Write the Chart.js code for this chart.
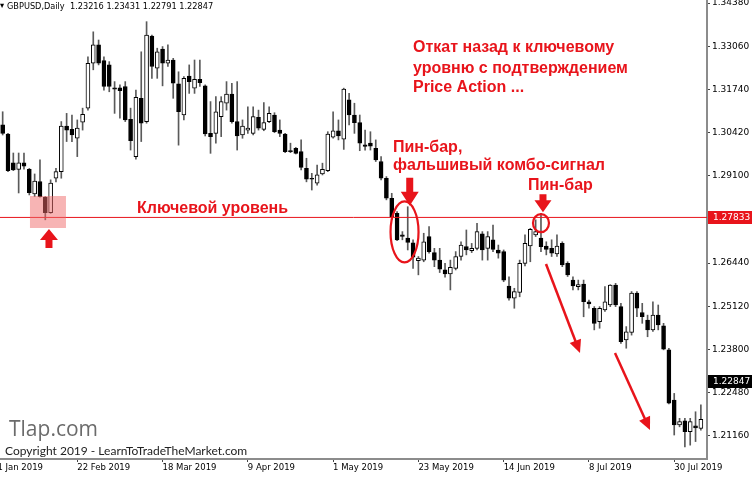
<!DOCTYPE html>
<html>
<head>
<meta charset="utf-8">
<script src="https://cdn.jsdelivr.net/npm/chart.js@4.4.1/dist/chart.umd.min.js"></script>
<style>
  html, body { margin: 0; padding: 0; background: #fff; }
  #wrap { width: 752px; height: 477px; }
</style>
</head>
<body>
<div id="wrap"><canvas id="priceChart" width="752" height="477"></canvas></div>
<script>
// daily GBPUSD candles, bar 0 = 4 Feb 2019 ... bar 131 = 6 Aug 2019
const opens = [1.3066,1.3038,1.2950,1.2930,1.2950,1.2930,1.2855,1.2893,1.2845,1.2798,1.2903,1.2923,1.3062,1.3052,1.3025,1.3074,1.3117,1.3254,1.3310,1.3262,
  1.3249,1.3179,1.3179,1.3183,1.3083,1.2969,1.3147,1.3076,1.3337,1.3239,1.3297,1.3254,1.3264,1.3191,1.3096,1.3215,1.3178,1.3205,1.3185,1.3040,
  1.3040,1.3091,1.3132,1.3160,1.3076,1.3035,1.3050,1.3040,1.3089,1.3052,1.3076,1.3096,1.3050,1.3038,1.2987,1.2994,1.2984,1.2933,1.2903,1.2888,
  1.2916,1.2926,1.3028,1.3048,1.3022,1.3142,1.3096,1.3073,1.3005,1.3010,1.2994,1.2954,1.2903,1.2842,1.2796,1.2730,1.2720,1.2706,1.2651,1.2653,
  1.2725,1.2676,1.2653,1.2623,1.2611,1.2628,1.2664,1.2694,1.2682,1.2689,1.2733,1.2689,1.2715,1.2684,1.2679,1.2574,1.2537,1.2554,1.2643,1.2696,
  1.2730,1.2720,1.2696,1.2689,1.2672,1.2704,1.2643,1.2592,1.2572,1.2580,1.2526,1.2506,1.2465,1.2501,1.2516,1.2577,1.2511,1.2409,1.2432,1.2552,
  1.2493,1.2470,1.2440,1.2485,1.2452,1.2379,1.2226,1.2150,1.2162,1.2129,1.2147,1.2139];
const highs = [1.3106,1.3040,1.2980,1.2980,1.2980,1.2933,1.2916,1.2959,1.2847,1.2898,1.2933,1.3076,1.3101,1.3096,1.3081,1.3117,1.3274,1.3350,1.3325,1.3274,
  1.3259,1.3198,1.3188,1.3198,1.3117,1.3172,1.3289,1.3381,1.3340,1.3300,1.3305,1.3310,1.3269,1.3228,1.3213,1.3249,1.3264,1.3264,1.3188,1.3137,
  1.3152,1.3152,1.3198,1.3193,1.3198,1.3081,1.3121,1.3121,1.3111,1.3134,1.3121,1.3103,1.3081,1.3040,1.3010,1.2997,1.3020,1.2964,1.2918,1.2943,
  1.2949,1.3045,1.3106,1.3081,1.3178,1.3162,1.3132,1.3096,1.3050,1.3045,1.3020,1.2969,1.2908,1.2857,1.2801,1.2740,1.2816,1.2715,1.2664,1.2735,
  1.2755,1.2689,1.2689,1.2643,1.2653,1.2679,1.2709,1.2745,1.2704,1.2765,1.2740,1.2740,1.2760,1.2699,1.2684,1.2602,1.2567,1.2653,1.2730,1.2750,
  1.2776,1.2796,1.2709,1.2715,1.2730,1.2709,1.2648,1.2602,1.2592,1.2592,1.2531,1.2511,1.2511,1.2572,1.2578,1.2582,1.2521,1.2450,1.2557,1.2557,
  1.2521,1.2485,1.2526,1.2516,1.2460,1.2384,1.2246,1.2170,1.2170,1.2170,1.2190,1.2211];
const lows = [1.3035,1.2923,1.2926,1.2858,1.2931,1.2852,1.2847,1.2845,1.2776,1.2796,1.2892,1.2903,1.3015,1.3015,1.2969,1.3050,1.3111,1.3234,1.3249,1.3172,
  1.3167,1.3101,1.3086,1.3076,1.2989,1.2961,1.3015,1.3071,1.3208,1.3208,1.3185,1.3244,1.3147,1.3004,1.3081,1.3162,1.3162,1.3183,1.3032,1.2979,
  1.3010,1.3030,1.3111,1.3071,1.2989,1.3025,1.3040,1.3035,1.3050,1.3048,1.3073,1.3042,1.3030,1.2981,1.2981,1.2977,1.2928,1.2892,1.2867,1.2882,
  1.2913,1.2923,1.3025,1.3020,1.2991,1.3066,1.3040,1.2987,1.2989,1.2989,1.2954,1.2898,1.2837,1.2776,1.2712,1.2715,1.2684,1.2628,1.2608,1.2648,
  1.2674,1.2633,1.2615,1.2601,1.2562,1.2623,1.2653,1.2669,1.2676,1.2684,1.2653,1.2653,1.2679,1.2659,1.2587,1.2531,1.2506,1.2541,1.2635,1.2648,
  1.2725,1.2679,1.2669,1.2664,1.2664,1.2633,1.2603,1.2562,1.2562,1.2480,1.2506,1.2440,1.2445,1.2496,1.2511,1.2511,1.2399,1.2384,1.2424,1.2480,
  1.2460,1.2419,1.2435,1.2440,1.2379,1.2214,1.2119,1.2144,1.2083,1.2088,1.2099,1.2134];
const closes = [1.3040,1.2926,1.2928,1.2950,1.2940,1.2859,1.2894,1.2847,1.2798,1.2888,1.2923,1.3062,1.3050,1.3035,1.3056,1.3098,1.3254,1.3310,1.3254,1.3183,
  1.3183,1.3175,1.3170,1.3081,1.3018,1.3150,1.3071,1.3340,1.3244,1.3289,1.3254,1.3264,1.3193,1.3106,1.3208,1.3198,1.3205,1.3195,1.3038,1.3030,
  1.3106,1.3137,1.3160,1.3076,1.3032,1.3062,1.3056,1.3091,1.3056,1.3073,1.3101,1.3045,1.3040,1.2984,1.2984,1.2979,1.2936,1.2900,1.2900,1.2913,
  1.2930,1.3038,1.3048,1.3032,1.3175,1.3096,1.3073,1.3010,1.3000,1.3001,1.2959,1.2903,1.2842,1.2786,1.2715,1.2725,1.2707,1.2662,1.2659,1.2709,
  1.2679,1.2653,1.2625,1.2611,1.2631,1.2664,1.2699,1.2684,1.2689,1.2740,1.2684,1.2725,1.2686,1.2674,1.2592,1.2537,1.2557,1.2643,1.2704,1.2747,
  1.2740,1.2694,1.2686,1.2674,1.2696,1.2638,1.2608,1.2574,1.2578,1.2526,1.2519,1.2460,1.2506,1.2526,1.2577,1.2516,1.2404,1.2434,1.2552,1.2506,
  1.2480,1.2440,1.2485,1.2455,1.2381,1.2216,1.2150,1.2160,1.2129,1.2160,1.2141,1.2167];

const dateTickBars = [-2, 14, 30, 46, 62, 78, 94, 110, 126];
const dateTickLabels = ['31 Jan 2019', '22 Feb 2019', '18 Mar 2019', '9 Apr 2019', '1 May 2019',
  '23 May 2019', '14 Jun 2019', '8 Jul 2019', '30 Jul 2019'];
const priceTicks = [1.34380, 1.33060, 1.31740, 1.30420, 1.29100, 1.26440, 1.25120, 1.23800, 1.22480, 1.21160];
const keyLevel = 1.27833;
const lastPrice = 1.22847;

const wickData = opens.map((o, i) => ({ x: i, y: [lows[i], highs[i]] }));
const bodyData = opens.map((o, i) => ({ x: i, y: [o, closes[i]] }));
const bodyColors = opens.map((o, i) => closes[i] >= o ? '#ffffff' : '#000000');

const RED = '#e8141b';

function arrowHead(ctx, x1, y1, x2, y2, len, half) {
    const a = Math.atan2(y2 - y1, x2 - x1);
    ctx.beginPath();
    ctx.moveTo(x2, y2);
    ctx.lineTo(x2 - len * Math.cos(a) + half * Math.sin(a), y2 - len * Math.sin(a) - half * Math.cos(a));
    ctx.lineTo(x2 - len * Math.cos(a) - half * Math.sin(a), y2 - len * Math.sin(a) + half * Math.cos(a));
    ctx.closePath();
    ctx.fill();
}

// fat block arrow, tip at (x, tipY), pointing up (dir=-1) or down (dir=1)
function blockArrow(ctx, x, tipY, dir, headH, headW, shaftH, shaftW) {
    ctx.beginPath();
    ctx.moveTo(x, tipY);
    ctx.lineTo(x + headW / 2, tipY - dir * headH);
    ctx.lineTo(x + shaftW / 2, tipY - dir * headH);
    ctx.lineTo(x + shaftW / 2, tipY - dir * (headH + shaftH));
    ctx.lineTo(x - shaftW / 2, tipY - dir * (headH + shaftH));
    ctx.lineTo(x - shaftW / 2, tipY - dir * headH);
    ctx.lineTo(x - headW / 2, tipY - dir * headH);
    ctx.closePath();
    ctx.fill();
}

const notesPlugin = {
    id: 'notes',
    beforeDatasetsDraw(chart) {
        const ctx = chart.ctx;
        ctx.save();
        ctx.fillStyle = '#6b6b6b';
        ctx.font = '21px "Open Sans", sans-serif';
        ctx.textBaseline = 'middle';
        ctx.fillText('Tlap.com', 9, 430);
        ctx.fillStyle = '#222';
        ctx.font = '12px Lato, sans-serif';
        ctx.fillText('Copyright 2019 - LearnToTradeTheMarket.com', 5, 451);
        ctx.restore();
    },
    afterDraw(chart) {
        const ctx = chart.ctx;
        const xs = chart.scales.x, ys = chart.scales.y;
        const area = chart.chartArea;
        ctx.save();

        // header
        ctx.fillStyle = '#000';
        ctx.font = '8.2px "DejaVu Sans", sans-serif';
        ctx.textBaseline = 'middle';
        ctx.fillText('\u25BE', 0, 6);
        ctx.fillText('GBPUSD,Daily  1.23216 1.23431 1.22791 1.22847', 7, 7);

        // pink key zone
        const zx = xs.getPixelForValue(8.5);
        ctx.fillStyle = 'rgba(240,105,105,0.5)';
        ctx.fillRect(zx - 18, 196, 36, 32);

        ctx.fillStyle = RED;
        blockArrow(ctx, zx + 1, 229, -1, 11, 18, 8, 7);

        // first pin bar
        const p1 = xs.getPixelForValue(76);
        blockArrow(ctx, p1 + 2, ys.getPixelForValue(highs[76]) - 1, 1, 14, 18, 14, 7);
        ctx.strokeStyle = RED;
        ctx.lineWidth = 2.2;
        ctx.beginPath();
        ctx.ellipse(xs.getPixelForValue(75.4), ys.getPixelForValue(1.2739), 14, 30.5, 0, 0, Math.PI * 2);
        ctx.stroke();

        // second pin bar
        const p2 = xs.getPixelForValue(101);
        blockArrow(ctx, p2 + 2, ys.getPixelForValue(highs[101]) - 1, 1, 12, 17, 6, 7);
        ctx.beginPath();
        ctx.ellipse(p2, ys.getPixelForValue(1.2766), 8, 9, 0, 0, Math.PI * 2);
        ctx.stroke();

        // trend arrows
        ctx.lineWidth = 2.5;
        [[546, 264, 580, 353], [615, 353, 650, 430]].forEach(a => {
            const ang = Math.atan2(a[3] - a[1], a[2] - a[0]);
            ctx.beginPath();
            ctx.moveTo(a[0], a[1]);
            ctx.lineTo(a[2] - 8 * Math.cos(ang), a[3] - 8 * Math.sin(ang));
            ctx.stroke();
            arrowHead(ctx, a[0], a[1], a[2], a[3], 13, 6);
        });

        // texts
        ctx.fillStyle = RED;
        ctx.font = 'bold 16px "Liberation Sans", Arial, sans-serif';
        ctx.textBaseline = 'middle';
        ctx.fillText('Откат назад к ключевому', 413, 48);
        ctx.fillText('уровню с подтверждением', 413, 69);
        ctx.fillText('Price Action ...', 413, 88);
        ctx.fillText('Пин-бар,', 393, 148);
        ctx.fillText('фальшивый комбо-сигнал', 393, 166);
        ctx.fillText('Пин-бар', 528, 186);
        ctx.fillText('Ключевой уровень', 137, 209);

        // price labels on the axis
        ctx.font = '9px "DejaVu Sans", sans-serif';
        const boxes = [[keyLevel, RED], [lastPrice, '#000']];
        boxes.forEach(b => {
            const yy = Math.round(ys.getPixelForValue(b[0]));
            ctx.fillStyle = b[1];
            ctx.fillRect(area.right + 1, yy - 6, 752 - area.right - 1, 13);
            ctx.fillStyle = '#fff';
            ctx.fillText(b[0].toFixed(5), area.right + 6, yy + 0.5);
        });
        ctx.restore();
    }
};

new Chart(document.getElementById('priceChart'), {
    type: 'bar',
    data: {
        datasets: [
            {
                type: 'line',
                data: [{ x: -0.5, y: keyLevel }, { x: 132.15, y: keyLevel }],
                borderColor: RED,
                borderWidth: 1,
                pointRadius: 0,
                order: -1
            },
            {
                data: bodyData,
                backgroundColor: bodyColors,
                borderColor: '#000',
                borderWidth: 1,
                borderSkipped: false,
                barThickness: 4,
                minBarLength: 1,
                grouped: false,
                order: 0
            },
            {
                data: wickData,
                backgroundColor: '#5a5a5a',
                barThickness: 1,
                grouped: false,
                order: 1
            }
        ]
    },
    options: {
        responsive: false,
        animation: false,
        layout: { padding: 0, autoPadding: false },
        plugins: {
            legend: { display: false },
            tooltip: { enabled: false }
        },
        scales: {
            x: {
                type: 'linear',
                offset: false,
                min: -0.5,
                max: 132.15,
                afterBuildTicks: s => { s.ticks = dateTickBars.map(v => ({ value: v })); },
                afterFit: s => { s.height = 18; s.paddingLeft = 0; s.paddingRight = 0; },
                ticks: {
                    autoSkip: false,
                    maxRotation: 0,
                    align: 'start',
                    padding: 1,
                    color: '#000',
                    font: { family: '"DejaVu Sans", sans-serif', size: 8.5 },
                    callback: (v, i) => dateTickLabels[i]
                },
                grid: { offset: false, drawOnChartArea: false, drawTicks: true, tickLength: 3, color: '#444' },
                border: { display: true, color: '#8c8c8c', width: 2 }
            },
            y: {
                position: 'right',
                min: 1.204576,
                max: 1.344716,
                afterBuildTicks: s => { s.ticks = priceTicks.map(v => ({ value: v })); },
                afterFit: s => { s.width = 45; s.paddingTop = 0; s.paddingBottom = 0; },
                ticks: {
                    padding: 2,
                    color: '#000',
                    font: { family: '"DejaVu Sans", sans-serif', size: 9 },
                    callback: v => v.toFixed(5)
                },
                grid: { drawOnChartArea: false, drawTicks: true, tickLength: 3, color: '#444' },
                border: { display: true, color: '#8c8c8c', width: 2 }
            }
        }
    },
    plugins: [notesPlugin]
});
</script>
</body>
</html>
